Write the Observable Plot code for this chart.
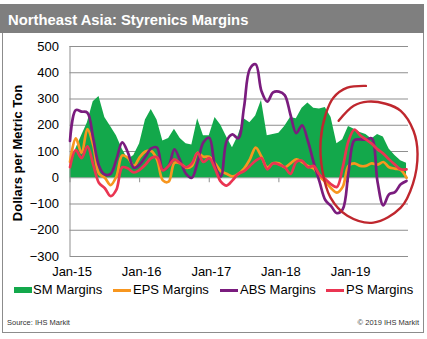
<!DOCTYPE html>
<html>
<head>
<meta charset="utf-8">
<script src="https://cdn.jsdelivr.net/npm/d3@7"></script>
<script src="https://cdn.jsdelivr.net/npm/@observablehq/plot@0.6"></script>
<style>
  body { margin: 0; background: #fff; font-family: "Liberation Sans", Arial, sans-serif; }
  #wrap { position: relative; width: 427px; height: 339px; overflow: hidden; }
  #titlebar { position: absolute; left: 0; top: 4px; width: 424px; height: 29px; background: #7f7f7f; }
  #title { position: absolute; left: 8px; top: 8px; color: #fff; font-weight: bold; font-size: 14.8px; line-height: 16px; white-space: nowrap; }
  #border { position: absolute; left: 2px; top: 33px; width: 420px; height: 299px; border: 1px solid #8c8c8c; border-top: none; }
  #chart { position: absolute; left: 0; top: 34px; }
  #ylabel { position: absolute; left: 17px; top: 153px; transform: translate(-50%, -50%) rotate(-90deg); font-weight: bold; font-size: 13px; white-space: nowrap; color: #000; }
  .leg { position: absolute; top: 282px; font-size: 13px; line-height: 16px; white-space: nowrap; color: #000; }
  .sw { position: absolute; }
  .foot { position: absolute; top: 318px; font-size: 7.5px; color: #333; white-space: nowrap; }
</style>
</head>
<body>
<div id="wrap">
  <div id="titlebar"><div id="title">Northeast Asia: Styrenics Margins</div></div>
  <div id="border"></div>
  <div id="chart"></div>
  <div id="ylabel">Dollars per Metric Ton</div>
  <div id="legend"></div>
  <div class="foot" style="left:7px;">Source: IHS Markit</div>
  <div class="foot" style="right:8px;">© 2019 IHS Markit</div>
</div>
<script>
// Monthly observations, Jan-2015 (index 0) to Nov-2019 (index 58)
const sm  = [30,110,160,210,290,310,230,195,160,110,70,85,130,220,260,220,140,150,185,150,130,125,225,160,160,230,200,155,114,160,225,210,235,295,160,165,170,195,230,225,265,285,265,262,268,230,130,145,195,185,172,165,148,165,155,110,85,65,55];
const eps = [60,150,95,185,125,15,0,-28,5,85,75,45,78,100,102,70,-10,-15,57,55,38,45,95,80,80,55,25,15,5,15,35,70,115,80,40,55,55,40,55,70,60,45,35,5,-15,-40,-57,-35,45,55,45,45,55,50,60,40,35,30,0];
const abs = [140,258,252,248,150,45,12,15,70,135,95,38,50,80,112,115,30,45,108,65,15,0,60,135,152,45,5,140,165,150,270,415,432,330,290,325,328,315,240,170,200,140,58,-15,-85,-108,-135,-120,20,143,146,145,150,-15,-105,-63,-55,-25,-12];
const ps  = [40,105,75,120,50,-20,-40,-70,-45,40,35,20,30,50,75,78,28,45,70,55,40,55,95,60,75,35,-15,-30,-10,15,25,45,65,75,32,55,50,40,15,60,65,40,45,12,-5,-25,-35,40,140,183,162,146,130,108,92,70,50,32,32];

const tickMonths = [0, 12, 24, 36, 48];
const tickLabels = ["Jan-15", "Jan-16", "Jan-17", "Jan-18", "Jan-19"];
const yTicks = [-300, -200, -100, 0, 100, 200, 300, 400, 500];

const seriesNames = ["SM Margins", "EPS Margins", "ABS Margins", "PS Margins"];
const seriesColors = ["#13a84b", "#f7961f", "#7a1c7e", "#ea3552"];

// hand-drawn highlight loop (month index, value)
const circleM = [46.3,48.9,51.3,54.4,57.0,59.2,59.9,59.1,57.0,52.3,47.8,44.9,43.5,43.2,44.1,45.4,47.8,51.0];
const circleV = [217,274,290,282,255,179,91,-23,-114,-171,-145,-76,27,141,244,305,343,350];

const rows = sm.map((v, i) => ({m: i, sm: v, eps: eps[i], abs: abs[i], ps: ps[i]}));
const circle = circleM.map((m, i) => ({m, v: circleV[i]}));

const chart = Plot.plot({
  width: 427,
  height: 250,
  marginLeft: 69.5,
  marginRight: 19,
  marginTop: 12,
  marginBottom: 28,
  style: {fontFamily: "'Liberation Sans', Arial, sans-serif", fontSize: "13px", color: "#000", background: "transparent", overflow: "visible"},
  x: {domain: [0, 58.34]},
  y: {domain: [-300, 500]},
  marks: [
    Plot.gridY(yTicks, {stroke: "#8f8f8f", strokeOpacity: 1}),
    Plot.areaY(rows, {x: "m", y: "sm", fill: seriesColors[0]}),
    Plot.ruleX([0], {y1: -300, y2: 500, stroke: "#8f8f8f"}),
    Plot.ruleX(tickMonths, {x: d => d, y1: 0, y2: -19, stroke: "#8f8f8f"}),
    Plot.line(rows, {x: "m", y: "eps", stroke: seriesColors[1], strokeWidth: 2.7, curve: "catmull-rom"}),
    Plot.line(rows, {x: "m", y: "abs", stroke: seriesColors[2], strokeWidth: 2.7, curve: "catmull-rom"}),
    Plot.line(rows, {x: "m", y: "ps", stroke: seriesColors[3], strokeWidth: 2.7, curve: "catmull-rom"}),
    Plot.line(circle, {x: "m", y: "v", stroke: "#bf272e", strokeWidth: 2.4, curve: "catmull-rom"}),
    Plot.axisY(yTicks, {tickSize: 0, tickPadding: 11, fontSize: 13, label: null}),
    Plot.axisX(tickMonths, {tickSize: 0, tickPadding: 10, fontSize: 13, dx: 2, label: null, tickFormat: (d) => tickLabels[tickMonths.indexOf(d)]})
  ]
});
document.getElementById("chart").appendChild(chart);

// legend
const legendPos = [[14, 33], [113, 133], [220, 240], [326, 346]];
const legend = document.getElementById("legend");
seriesNames.forEach((name, i) => {
  const [sx, tx] = legendPos[i];
  const sw = document.createElement("div");
  sw.className = "sw";
  sw.style.left = sx + "px";
  sw.style.width = "18px";
  sw.style.background = seriesColors[i];
  if (i === 0) { sw.style.top = "287px"; sw.style.height = "6px"; }
  else { sw.style.top = "288.5px"; sw.style.height = "3px"; }
  legend.appendChild(sw);
  const t = document.createElement("div");
  t.className = "leg";
  t.style.left = tx + "px";
  t.textContent = name;
  legend.appendChild(t);
});
</script>
</body>
</html>
